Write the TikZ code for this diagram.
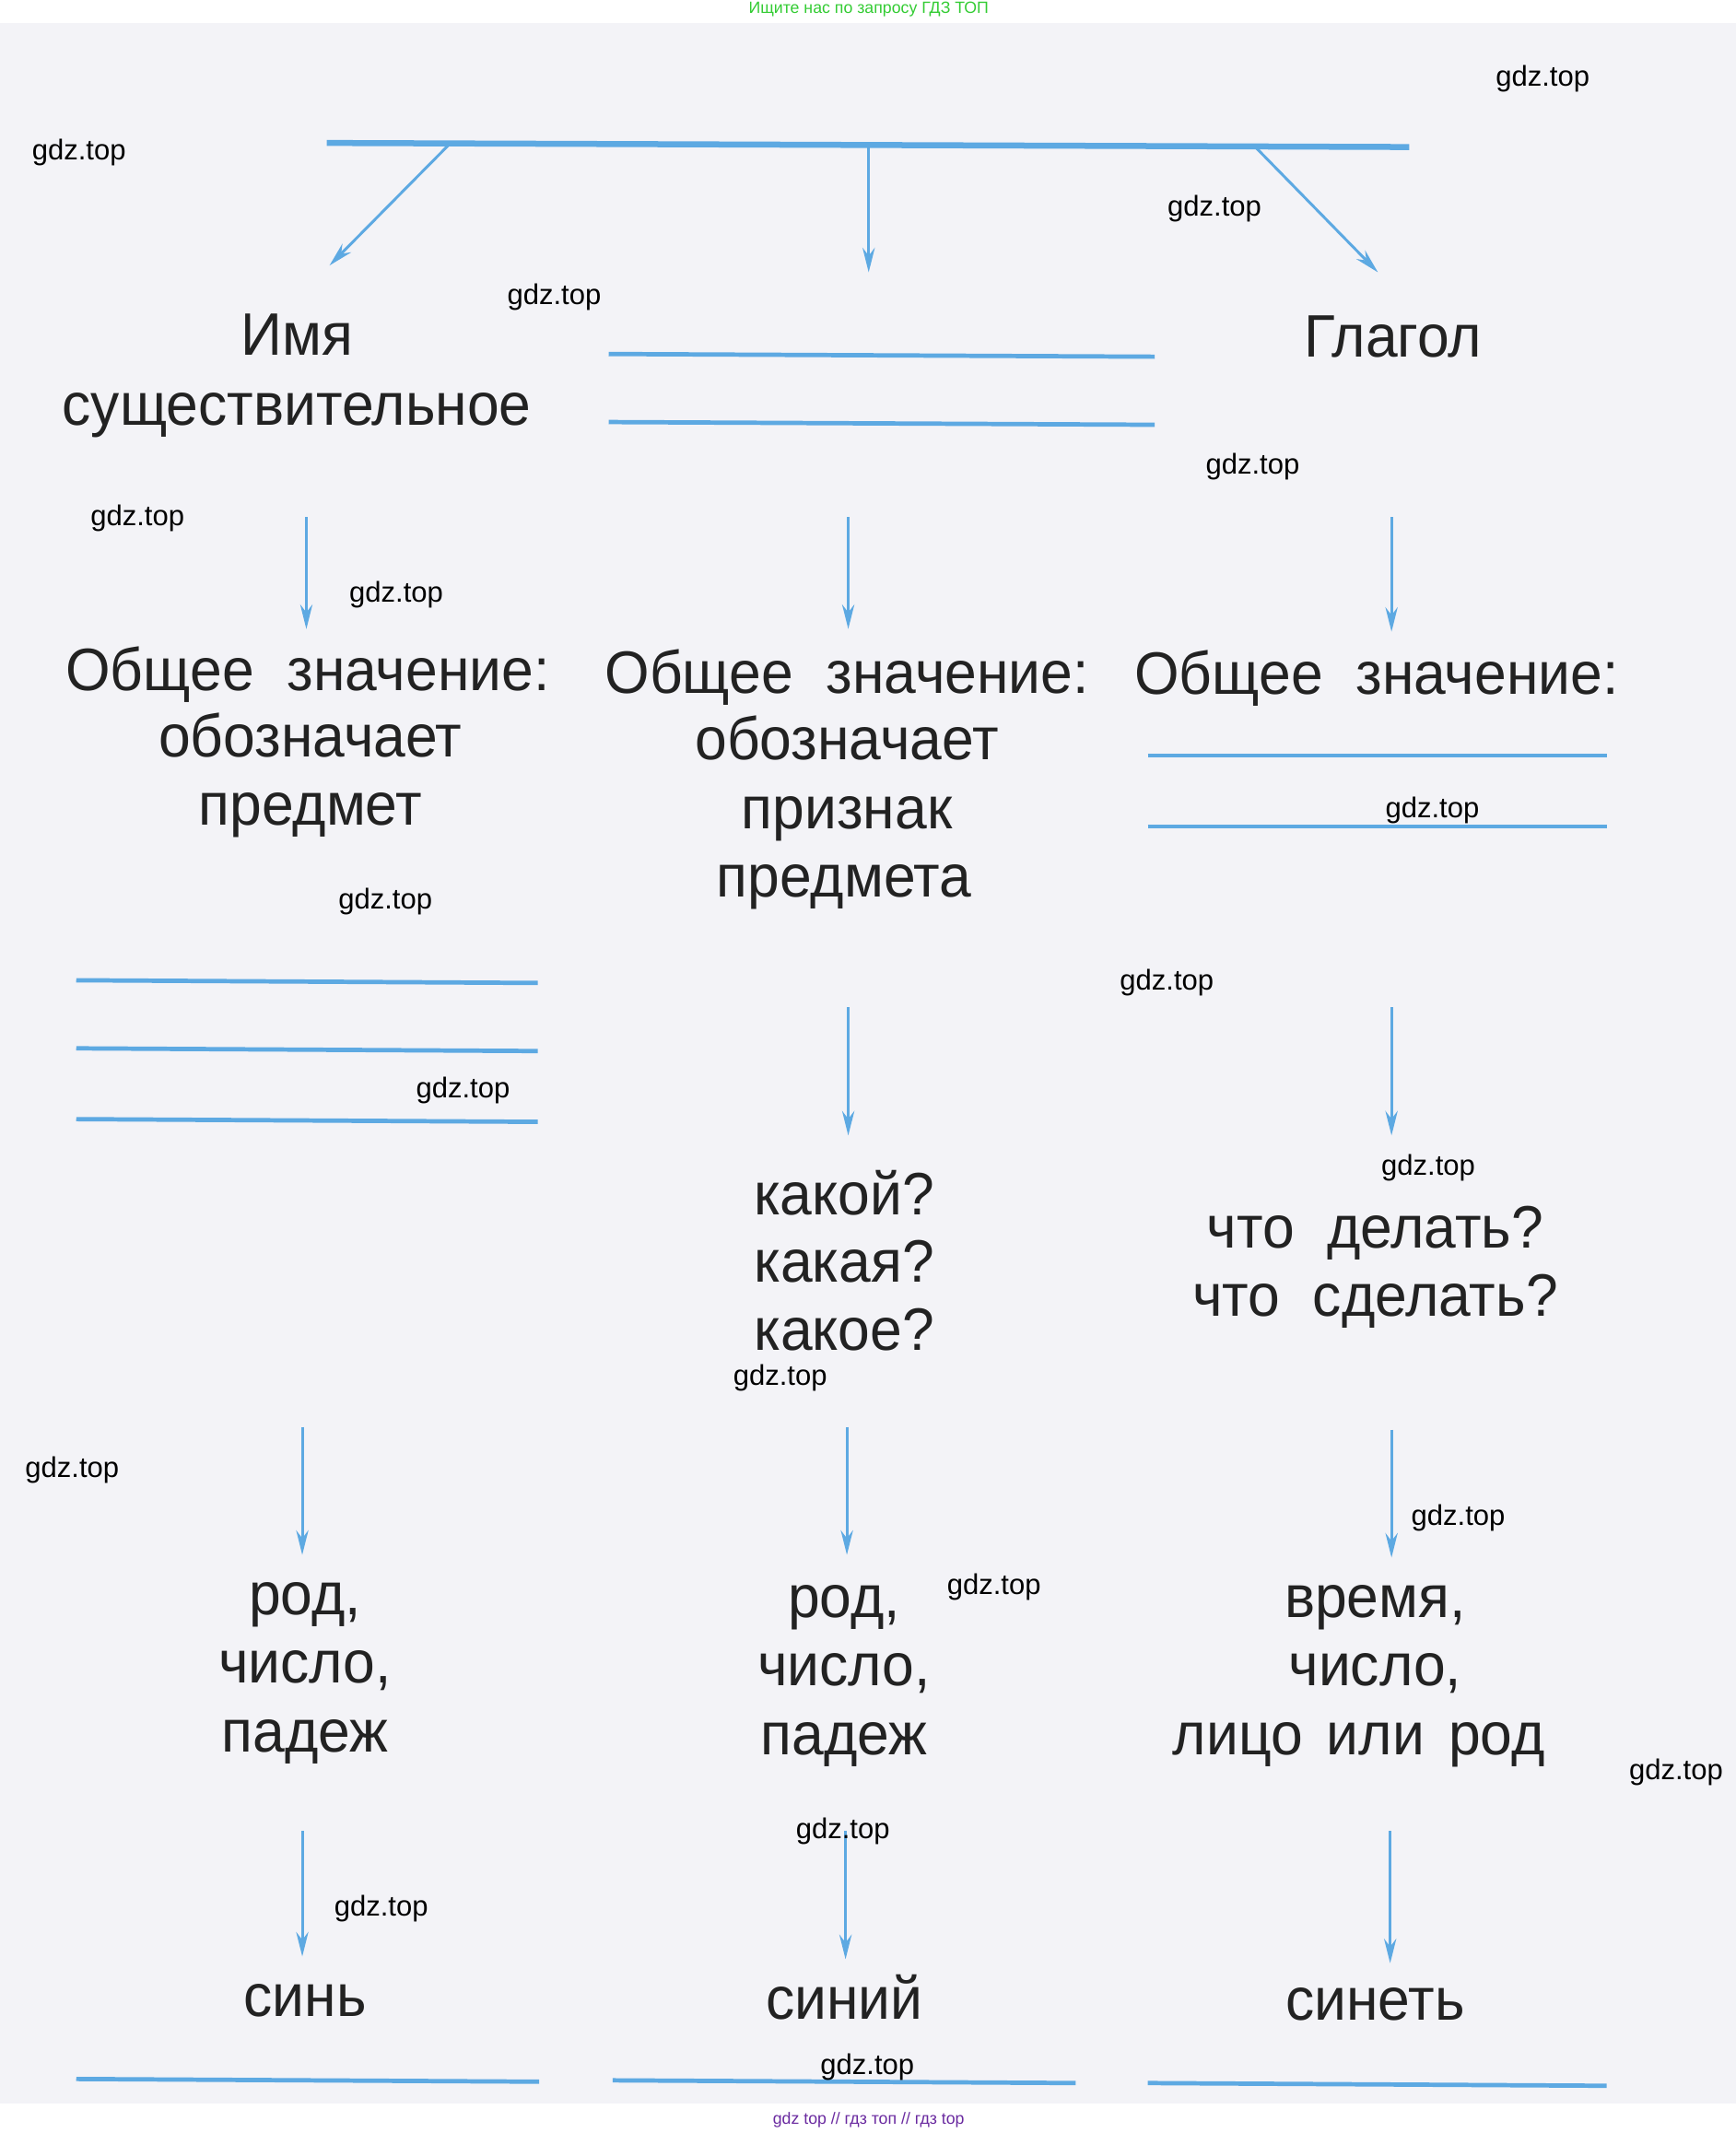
\documentclass[tikz,border=0pt]{standalone}
\usepackage{fontspec}
\setmainfont{Liberation Sans}
\newfontfamily\lblfont[FakeStretch=0.96]{Liberation Sans}
\usetikzlibrary{arrows.meta}
\definecolor{bl}{HTML}{5DA9E2}
\definecolor{ink}{HTML}{222222}
\definecolor{paper}{HTML}{F3F3F7}
\definecolor{wgreen}{HTML}{33CC33}
\definecolor{wpurple}{HTML}{6A2AA0}
\newcommand{\gap}{\hspace{0.55em}}
\newcommand{\sgap}{\hspace{0.4em}}
\tikzset{
 lbl/.style={anchor=base, text=ink, font=\lblfont\fontsize{22}{26}\selectfont, inner sep=0pt},
 wm/.style={text=black, font=\fontsize{10.5}{12}\selectfont, inner sep=0pt},
 arr/.style={draw=bl, line width=1pt, -{Stealth[length=9pt,width=4.5pt]}},
 blank/.style={draw=bl, line width=1.6pt},
 topline/.style={draw=bl, line width=2.2pt},
}
\begin{document}
\begin{tikzpicture}[x=0.5pt,y=-0.5pt]
\useasboundingbox (0,0) rectangle (1275,1566.7);
\fill[white] (0,0) rectangle (1275,1566.7);
\fill[paper] (0,17) rectangle (1275,1545);

% top bar
\coordinate (tl) at (240,105);
\coordinate (tr) at (1035,108);
\draw[topline] (tl) -- (tr);
\coordinate (b1) at (330,106);
\coordinate (b2) at (638,107);
\coordinate (b3) at (922,108);
\coordinate (e1) at (242,195);
\coordinate (e2) at (638,200);
\coordinate (e3) at (1012,200);
\draw[arr] (b1) -- (e1);
\draw[arr] (b2) -- (e2);
\draw[arr] (b3) -- (e3);

% level 1
\node[lbl] (imya) at (218,261) {Имя};
\node[lbl] (sush) at (218,312) {существительное};
\node[lbl] (glag) at (1023,262) {Глагол};
\coordinate (m1a) at (447,260); \coordinate (m1b) at (848,262);
\coordinate (m2a) at (447,310); \coordinate (m2b) at (848,312);
\draw[blank] (m1a) -- (m1b);
\draw[blank] (m2a) -- (m2b);

% arrows to level 2
\coordinate (a1s) at (225,380); \coordinate (a1e) at (225,462);
\coordinate (a2s) at (623,380); \coordinate (a2e) at (623,462);
\coordinate (a3s) at (1022,380); \coordinate (a3e) at (1022,464);
\draw[arr] (a1s) -- (a1e);
\draw[arr] (a2s) -- (a2e);
\draw[arr] (a3s) -- (a3e);

% level 2
\node[lbl] (z1) at (226,507) {Общее\gap значение:};
\node[lbl] (z2) at (622,509) {Общее\gap значение:};
\node[lbl] (z3) at (1011,510) {Общее\gap значение:};
\node[lbl] (o1) at (228,556) {обозначает};
\node[lbl] (p1) at (228,606) {предмет};
\node[lbl] (o2) at (622,558) {обозначает};
\node[lbl] (p2) at (622,609) {признак};
\node[lbl] (p3) at (620,659) {предмета};
\coordinate (r1a) at (843,555); \coordinate (r1b) at (1180,555);
\coordinate (r2a) at (843,607); \coordinate (r2b) at (1180,607);
\draw[blank] (r1a) -- (r1b);
\draw[blank] (r2a) -- (r2b);
\coordinate (l1a) at (56,720); \coordinate (l1b) at (395,722);
\coordinate (l2a) at (56,770); \coordinate (l2b) at (395,772);
\coordinate (l3a) at (56,822); \coordinate (l3b) at (395,824);
\draw[blank] (l1a) -- (l1b);
\draw[blank] (l2a) -- (l2b);
\draw[blank] (l3a) -- (l3b);

% arrows to level 3
\coordinate (c2s) at (623,740); \coordinate (c2e) at (623,834);
\coordinate (c3s) at (1022,740); \coordinate (c3e) at (1022,834);
\draw[arr] (c2s) -- (c2e);
\draw[arr] (c3s) -- (c3e);

% level 3
\node[lbl] (k1) at (620,892) {какой?};
\node[lbl] (k2) at (620,942) {какая?};
\node[lbl] (k3) at (620,992) {какое?};
\node[lbl] (d1) at (1010,917) {что\gap делать?};
\node[lbl] (d2) at (1010,967) {что\gap сделать?};

% arrows to level 4
\coordinate (f1s) at (222,1048); \coordinate (f1e) at (222,1142);
\coordinate (f2s) at (622,1048); \coordinate (f2e) at (622,1142);
\coordinate (f3s) at (1022,1050); \coordinate (f3e) at (1022,1144);
\draw[arr] (f1s) -- (f1e);
\draw[arr] (f2s) -- (f2e);
\draw[arr] (f3s) -- (f3e);

% level 4
\node[lbl] (g1) at (224,1186) {род,};
\node[lbl] (g2) at (224,1236) {число,};
\node[lbl] (g3) at (224,1287) {падеж};
\node[lbl] (h1) at (620,1188) {род,};
\node[lbl] (h2) at (620,1238) {число,};
\node[lbl] (h3) at (620,1289) {падеж};
\node[lbl] (v1) at (1010,1188) {время,};
\node[lbl] (v2) at (1010,1238) {число,};
\node[lbl] (v3) at (998,1289) {лицо\sgap или\sgap род};

% arrows to level 5
\coordinate (s1s) at (222,1345); \coordinate (s1e) at (222,1437);
\coordinate (s2s) at (621,1345); \coordinate (s2e) at (621,1439);
\coordinate (s3s) at (1021,1345); \coordinate (s3e) at (1021,1442);
\draw[arr] (s1s) -- (s1e);
\draw[arr] (s2s) -- (s2e);
\draw[arr] (s3s) -- (s3e);

% level 5
\node[lbl] (w1) at (224,1481) {синь};
\node[lbl] (w2) at (620,1483) {синий};
\node[lbl] (w3) at (1010,1484) {синеть};
\coordinate (q1a) at (56,1527); \coordinate (q1b) at (396,1529);
\coordinate (q2a) at (450,1528); \coordinate (q2b) at (790,1530);
\coordinate (q3a) at (843,1530); \coordinate (q3b) at (1180,1532);
\draw[blank] (q1a) -- (q1b);
\draw[blank] (q2a) -- (q2b);
\draw[blank] (q3a) -- (q3b);

% watermarks
\node[text=wgreen, font=\fontsize{6}{7}\selectfont, inner sep=0pt] (wt) at (638,7) {Ищите нас по запросу ГДЗ ТОП};
\node[text=wpurple, font=\fontsize{6}{7}\selectfont, inner sep=0pt] (wb) at (638,1557) {gdz top // гдз топ // гдз top};
\foreach \i/\x/\y in {1/1133/58, 2/58/112, 3/892/153, 4/407/218, 5/920/343, 6/101/381, 7/291/437, 8/1052/595, 9/283/662, 10/857/722, 11/340/801, 12/1049/858, 13/573/1012, 14/53/1080, 15/1071/1115, 16/730/1166, 17/1231/1302, 18/619/1345, 19/280/1402, 20/637/1518}
  \node[wm] (wm\i) at (\x,\y) {gdz.top};
\end{tikzpicture}
\end{document}
